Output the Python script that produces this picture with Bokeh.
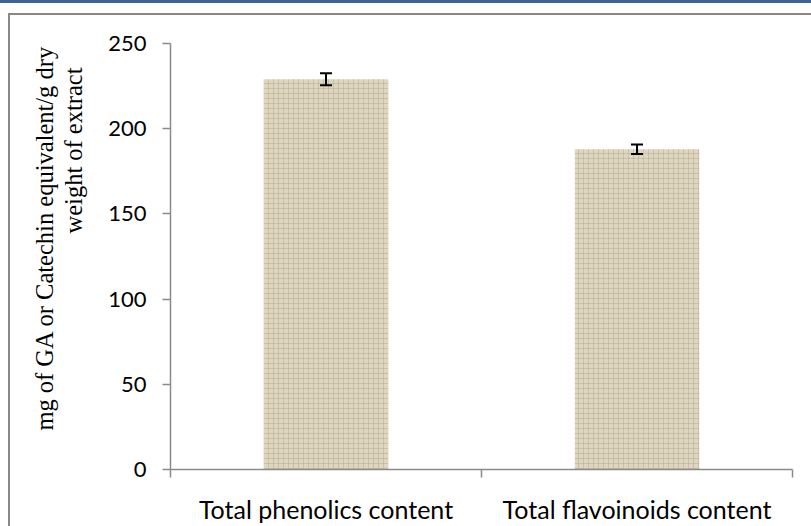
from bokeh.plotting import figure
from bokeh.models import (ColumnDataSource, FixedTicker, Whisker, TeeHead, Title, Range1d)
from bokeh.embed import file_html
from bokeh.resources import INLINE

# ---- data ----
categories = ["Total phenolics content", "Total flavoinoids content"]
values = [229.0, 188.0]
errors = [3.5, 2.8]
y_ticks = [0, 50, 100, 150, 200, 250]
y_label_lines = ["mg of GA or Catechin equivalent/g dry", "weight of extract"]

xs = [i + 0.5 for i in range(len(categories))]
bounds = [float(i) for i in range(len(categories) + 1)]
src = ColumnDataSource(dict(
    x=xs, top=values,
    upper=[v + e for v, e in zip(values, errors)],
    lower=[v - e for v, e in zip(values, errors)],
))

AXIS = "#8a8a8a"

p = figure(width=811, height=526, x_range=Range1d(0, len(categories)),
           y_range=Range1d(y_ticks[0], y_ticks[-1]),
           output_backend="svg", toolbar_location=None,
           min_border_left=170, min_border_right=19,
           min_border_top=43, min_border_bottom=56)
p.outline_line_color = None
p.grid.visible = False
p.background_fill_color = "white"
p.border_fill_color = None
p.styles = {
    "background-color": "white",
    "background-image": "linear-gradient(#3C6596,#3C6596), linear-gradient(#888888,#888888), linear-gradient(#888888,#888888)",
    "background-size": "100% 3px, 100% 2px, 2px 100%",
    "background-position": "0px 0px, 8px 13px, 8px 13px",
    "background-repeat": "no-repeat",
}

p.vbar(x="x", top="top", width=0.4, source=src,
       fill_color="#DFD6C1", line_color=None,
       hatch_pattern="+", hatch_color="#B8AC92", hatch_scale=5,
       hatch_weight=1, hatch_alpha=0.55)

w = Whisker(base="x", upper="upper", lower="lower", source=src,
            line_color="black", line_width=2, level="overlay",
            upper_head=TeeHead(size=12, line_color="black", line_width=2),
            lower_head=TeeHead(size=12, line_color="black", line_width=2))
p.add_layout(w)

# x axis
xa = p.xaxis[0]
xa.ticker = FixedTicker(ticks=xs, minor_ticks=bounds)
xa.major_label_overrides = {x: c for x, c in zip(xs, categories)}
xa.major_tick_line_color = None
xa.major_tick_in = 0
xa.major_tick_out = 0
xa.minor_tick_in = 0
xa.minor_tick_out = 8
xa.minor_tick_line_color = AXIS
xa.minor_tick_line_width = 1.5
xa.axis_line_color = AXIS
xa.axis_line_width = 1.5
xa.major_label_text_font = "Lato"
xa.major_label_text_font_size = "25px"
xa.major_label_text_color = "black"
xa.major_label_standoff = 16

# y axis
ya = p.yaxis[0]
ya.ticker = FixedTicker(ticks=y_ticks, minor_ticks=[])
ya.major_tick_in = 0
ya.major_tick_out = 8
ya.major_tick_line_color = AXIS
ya.major_tick_line_width = 1.5
ya.axis_line_color = AXIS
ya.axis_line_width = 1.5
ya.major_label_text_font = "Lato"
ya.major_label_text_font_size = "22px"
ya.major_label_text_color = "black"
ya.major_label_standoff = 16
# blank axis label used only as spacing between tick labels and the title
ya.axis_label = " "
ya.axis_label_text_font_size = "2px"
ya.axis_label_standoff = 13

# y title, two lines (inner line first)
for txt, off in [(y_label_lines[1], 24), (y_label_lines[0], 2)]:
    p.add_layout(Title(text=txt, align="right", offset=off, standoff=0,
                       text_font="Liberation Serif", text_font_size="24.5px",
                       text_font_style="normal", text_color="black"), "left")

open("out.html", "w").write(file_html(p, INLINE))
